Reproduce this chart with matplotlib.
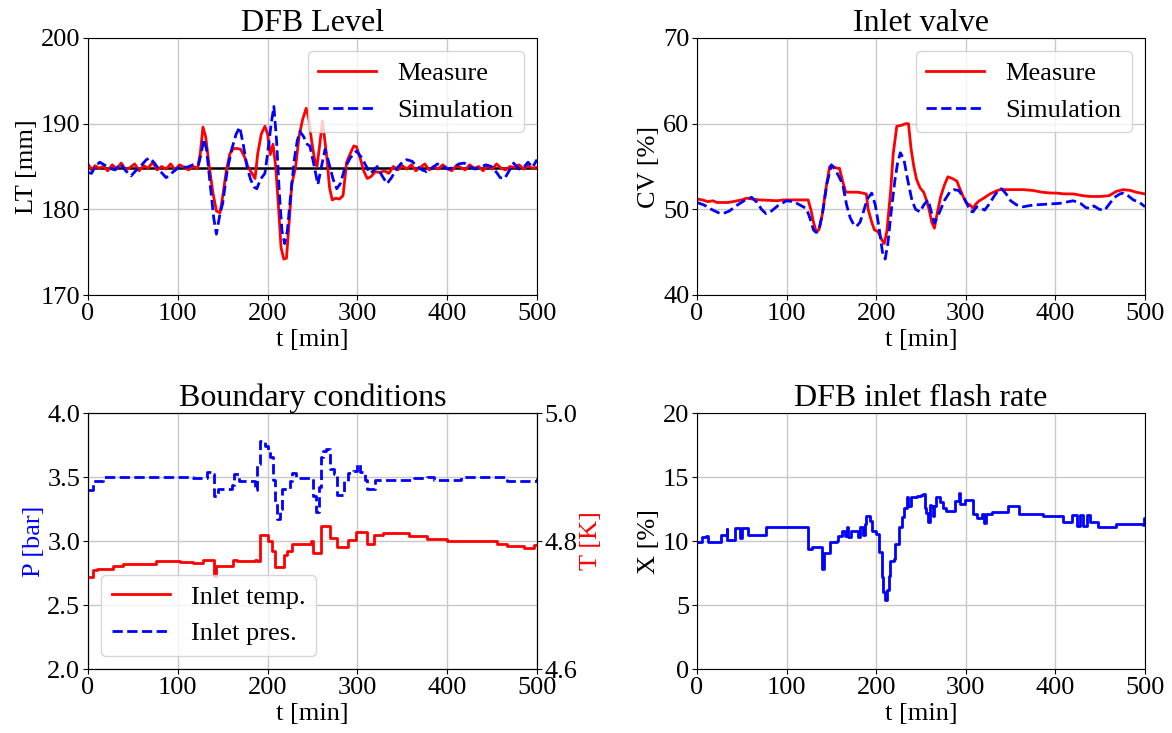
import numpy as np
import matplotlib
matplotlib.use('Agg')
import matplotlib.pyplot as plt

plt.rcParams['font.family'] = ['Liberation Serif', 'DejaVu Serif']
plt.rcParams['mathtext.fontset'] = 'stix'

# DFB level [mm]
lt_setpoint = 184.8
lt_measure = [(0, 185.3), (4, 184.6), (8, 185.1), (12, 184.8), (17, 185.0), (22, 184.5), (27, 185.2),
              (32, 184.7), (37, 185.4), (42, 184.6), (47, 184.9), (52, 185.3), (57, 184.5), (62, 185.1),
              (67, 184.8), (72, 185.5), (77, 184.6), (82, 185.0), (87, 184.7), (92, 185.3), (97, 184.6),
              (102, 185.2), (107, 184.9), (112, 184.6), (117, 185.0), (122, 184.8), (125, 186.5),
              (128, 189.6), (131, 188.5), (135, 185.0), (139, 182.0), (143, 179.8), (147, 179.6),
              (150, 181.5), (154, 184.5), (158, 186.5), (162, 187.1), (166, 187.1), (170, 187.0),
              (174, 186.2), (178, 185.0), (182, 184.3), (186, 183.6), (189, 186.5), (193, 188.8),
              (197, 189.7), (200, 188.8), (203, 186.4), (206, 187.6), (209, 185.0), (212, 180.5),
              (215, 175.5), (218, 174.2), (221, 174.3), (224, 178.5), (227, 183.0), (231, 184.8),
              (235, 188.5), (239, 190.5), (243, 191.8), (246, 190.5), (249, 188.0), (252, 186.0),
              (255, 185.0), (258, 187.5), (261, 190.3), (263, 188.7), (266, 186.0), (269, 182.5),
              (272, 181.1), (276, 181.3), (280, 181.2), (284, 181.6), (288, 185.5), (292, 186.5),
              (296, 187.4), (299, 187.3), (303, 186.0), (307, 184.5), (311, 183.6), (315, 183.8),
              (320, 184.4), (325, 184.3), (330, 184.5), (335, 184.2), (340, 185.0), (345, 184.6),
              (350, 185.1), (355, 184.7), (360, 185.2), (365, 184.5), (370, 184.9), (375, 185.3),
              (380, 184.6), (385, 185.0), (390, 184.7), (395, 185.2), (400, 184.8), (405, 184.5),
              (410, 185.1), (415, 184.9), (420, 184.6), (425, 185.2), (430, 184.8), (435, 185.0),
              (440, 184.5), (445, 185.1), (450, 184.7), (455, 185.3), (460, 184.8), (465, 184.6),
              (470, 185.0), (475, 184.9), (480, 185.2), (485, 184.7), (490, 185.1), (495, 184.8),
              (500, 184.9)]
lt_sim = [(0, 184.3), (4, 184.2), (8, 185.0), (13, 185.5), (18, 185.2), (24, 184.8), (30, 184.6),
          (36, 185.3), (42, 184.5), (48, 183.9), (54, 184.6), (60, 185.2), (65, 185.8), (69, 186.0),
          (74, 185.4), (80, 184.5), (87, 183.7), (94, 184.3), (102, 185.0), (110, 184.9), (117, 185.2),
          (123, 185.2), (126, 186.5), (129, 188.2), (132, 187.0), (136, 183.0), (140, 179.0),
          (143, 177.1), (147, 179.5), (150, 180.7), (155, 184.5), (160, 187.0), (165, 188.8),
          (169, 189.6), (173, 187.5), (177, 185.0), (181, 183.5), (185, 182.6), (188, 182.4),
          (192, 183.5), (197, 184.2), (200, 186.5), (204, 190.0), (207, 192.0), (210, 188.0),
          (213, 182.0), (216, 177.5), (219, 176.0), (222, 177.5), (226, 182.0), (230, 186.0),
          (233, 188.0), (236, 189.1), (240, 188.5), (244, 187.6), (247, 187.4), (251, 185.5),
          (256, 182.9), (260, 185.0), (264, 187.0), (268, 185.5), (273, 183.5), (277, 182.4),
          (281, 183.0), (286, 184.8), (292, 186.0), (299, 186.8), (305, 186.0), (310, 185.0),
          (314, 184.2), (318, 184.5), (322, 185.0), (327, 184.0), (333, 183.0), (338, 183.7),
          (344, 184.8), (350, 185.5), (355, 185.8), (361, 185.6), (366, 185.0), (372, 184.6),
          (377, 184.4), (383, 184.8), (389, 185.3), (395, 185.0), (401, 184.7), (407, 184.9),
          (413, 185.3), (419, 185.4), (425, 185.0), (431, 184.7), (437, 184.9), (443, 185.2),
          (449, 185.0), (455, 184.3), (459, 183.7), (464, 183.6), (469, 184.5), (474, 185.4),
          (480, 184.7), (486, 185.0), (490, 185.5), (495, 184.9), (500, 185.8)]

# inlet valve opening [%]
cv_measure = [(0, 51.2), (6, 51.1), (12, 50.9), (18, 51.0), (22, 50.8), (35, 50.8), (40, 50.9),
              (50, 51.1), (55, 51.3), (62, 51.2), (70, 51.1), (90, 51.0), (96, 51.1), (110, 51.1),
              (124, 51.1), (127, 50.0), (130, 48.5), (133, 47.4), (136, 47.6), (140, 49.5), (144, 52.5),
              (148, 55.0), (152, 55.0), (156, 54.8), (159, 54.8), (162, 53.5), (166, 52.0), (170, 52.0),
              (180, 52.0), (189, 51.8), (191, 50.0), (195, 48.5), (198, 47.6), (202, 47.4), (206, 46.5),
              (209, 46.0), (212, 47.5), (216, 52.0), (219, 56.5), (223, 59.7), (228, 59.8), (233, 60.0),
              (236, 60.0), (239, 57.0), (242, 55.0), (245, 53.5), (249, 52.5), (253, 52.0), (256, 51.1),
              (259, 50.0), (262, 48.5), (265, 47.8), (268, 49.5), (272, 51.5), (276, 52.8), (280, 53.8),
              (285, 53.6), (290, 53.3), (293, 52.5), (297, 51.5), (301, 50.7), (305, 50.5), (308, 50.1),
              (311, 50.6), (315, 51.0), (320, 51.3), (327, 51.8), (333, 52.1), (338, 52.3), (350, 52.3),
              (364, 52.3), (375, 52.2), (385, 52.0), (395, 51.9), (401, 51.9), (410, 51.8), (420, 51.8),
              (430, 51.6), (439, 51.5), (450, 51.5), (460, 51.6), (468, 52.1), (476, 52.3), (484, 52.2),
              (490, 52.0), (500, 51.8)]
cv_sim = [(0, 50.8), (8, 50.5), (16, 50.0), (24, 49.6), (29, 49.5), (36, 49.8), (45, 50.5), (54, 51.1),
          (61, 51.4), (67, 50.8), (72, 50.0), (77, 49.5), (83, 49.8), (90, 50.4), (100, 51.0), (108, 50.9),
          (115, 50.5), (122, 50.1), (126, 49.0), (130, 47.6), (133, 47.3), (136, 47.5), (140, 49.5),
          (145, 53.0), (150, 55.2), (155, 54.5), (160, 53.5), (163, 52.7), (167, 50.5), (171, 49.0),
          (175, 48.2), (178, 48.0), (182, 48.5), (186, 49.8), (190, 51.2), (195, 51.9), (199, 50.5),
          (203, 48.0), (207, 45.0), (210, 44.2), (213, 46.0), (217, 50.0), (221, 53.5), (224, 55.5),
          (227, 56.6), (231, 55.8), (235, 53.5), (240, 51.0), (244, 50.0), (249, 49.7), (253, 50.5),
          (258, 51.1), (262, 49.5), (265, 48.4), (270, 49.5), (276, 51.0), (282, 52.0), (287, 52.3),
          (292, 52.2), (297, 51.5), (302, 50.5), (305, 49.8), (308, 49.7), (312, 50.3), (316, 50.2),
          (321, 49.9), (326, 50.6), (332, 51.6), (337, 52.3), (340, 52.4), (345, 51.8), (350, 51.0),
          (357, 50.5), (364, 50.3), (375, 50.5), (390, 50.6), (405, 50.7), (415, 50.9), (420, 51.0),
          (428, 50.7), (434, 50.2), (439, 50.1), (443, 50.4), (449, 50.0), (455, 49.9), (460, 50.6),
          (466, 51.4), (472, 51.8), (476, 51.9), (481, 51.6), (487, 51.1), (494, 50.8), (500, 50.3)]

# boundary conditions: inlet pressure [bar], inlet temperature [K]
p_inlet = [(0, 3.40), (6, 3.47), (17, 3.50), (117, 3.49), (132, 3.54), (139, 3.52), (140, 3.35),
           (145, 3.41), (160, 3.44), (163, 3.52), (168, 3.47), (182, 3.47), (186, 3.40), (188, 3.60),
           (192, 3.78), (197, 3.74), (200, 3.70), (203, 3.66), (206, 3.48), (208, 3.30), (210, 3.17),
           (214, 3.25), (216, 3.41), (223, 3.41), (225, 3.47), (227, 3.53), (232, 3.49), (248, 3.49),
           (251, 3.35), (254, 3.23), (257, 3.42), (259, 3.66), (262, 3.70), (265, 3.72), (269, 3.56),
           (274, 3.52), (277, 3.36), (283, 3.36), (285, 3.47), (290, 3.53), (295, 3.55), (299, 3.60),
           (303, 3.54), (309, 3.48), (311, 3.41), (320, 3.48), (363, 3.49), (378, 3.50), (385, 3.48),
           (415, 3.50), (467, 3.47), (500, 3.49)]
t_inlet = [(0, 4.743), (6, 4.755), (10, 4.757), (28, 4.761), (39, 4.764), (76, 4.769), (102, 4.767),
           (117, 4.765), (128, 4.770), (140, 4.746), (143, 4.761), (162, 4.770), (166, 4.768),
           (177, 4.769), (186, 4.771), (188, 4.768), (191, 4.810), (201, 4.800), (205, 4.784),
           (208, 4.759), (214, 4.759), (218, 4.778), (222, 4.784), (227, 4.796), (248, 4.800),
           (251, 4.782), (259, 4.823), (266, 4.823), (270, 4.805), (277, 4.790), (287, 4.790),
           (289, 4.802), (298, 4.814), (307, 4.814), (311, 4.796), (318, 4.796), (319, 4.809),
           (328, 4.813), (356, 4.813), (357, 4.808), (378, 4.803), (400, 4.800), (437, 4.800),
           (456, 4.796), (467, 4.792), (486, 4.789), (497, 4.793), (500, 4.793)]

# DFB inlet flash rate [%]
flash_rate = [(0, 9.95), (6, 10.3), (10, 10.4), (12, 9.95), (27, 10.5), (33, 10.9), (34, 10.1), (40, 10.1),
              (42, 11.0), (48, 10.2), (50, 11.0), (57, 10.5), (74, 10.5), (77, 11.1), (122, 11.06),
              (124, 9.38), (128, 9.5), (139, 9.5), (140, 7.8), (142, 9.07), (147, 9.07), (148, 9.95),
              (156, 10.0), (157, 10.4), (162, 10.8), (165, 10.4), (167, 11.06), (169, 10.3), (172, 10.8),
              (180, 10.3), (182, 11.06), (185, 10.5), (187, 11.3), (189, 11.97), (193, 11.58), (195, 10.8),
              (200, 10.54), (203, 9.12), (206, 7.18), (208, 6.0), (210, 5.36), (212, 6.14), (214, 7.3),
              (215, 8.4), (220, 8.6), (221, 9.77), (224, 9.77), (226, 11.06), (229, 11.84), (231, 12.6),
              (234, 13.4), (236, 12.75), (239, 13.4), (245, 13.5), (250, 13.6), (252, 13.7), (254, 12.6),
              (256, 12.2), (258, 11.45), (260, 12.8), (261, 12.75), (263, 11.97), (265, 12.7), (267, 13.47),
              (271, 13.06), (275, 12.6), (278, 12.36), (286, 12.36), (288, 13.13), (292, 13.73),
              (293, 12.9), (299, 13.2), (308, 12.1), (312, 11.76), (318, 12.1), (320, 11.4), (322, 12.1),
              (329, 12.23), (347, 12.7), (359, 12.1), (386, 11.97), (407, 11.97), (408, 11.5), (418, 12.0),
              (424, 11.14), (427, 12.0), (431, 11.14), (435, 12.0), (439, 11.5), (448, 11.1), (468, 11.3),
              (498, 11.24), (499, 11.8), (500, 11.8)]

x_ticks = [0, 100, 200, 300, 400, 500]


def xy(pairs):
    arr = np.array(pairs, dtype=float)
    return arr[:, 0], arr[:, 1]


FS = 19
TFS = 23
fig = plt.figure(figsize=(11.72, 7.33), dpi=100)
W, H = 1172, 733


def add_ax(x0, y0, x1, y1):
    return fig.add_axes([x0 / W, 1 - y1 / H, (x1 - x0) / W, (y1 - y0) / H])


def style(ax):
    ax.set_xlim(0, 500)
    ax.set_xticks(x_ticks)
    ax.set_xlabel('t [min]', fontsize=FS, labelpad=3)
    ax.tick_params(labelsize=FS, pad=2)
    ax.grid(True, color='#c8c8c8', linewidth=1.0)
    ax.set_axisbelow(True)


# 1. DFB level
ax1 = add_ax(88, 38, 537, 295)
t, v = xy(lt_measure)
ax1.plot(t, v, color='red', linewidth=2, label='Measure')
t, v = xy(lt_sim)
ax1.plot(t, v, color='blue', linewidth=2, linestyle='--', label='Simulation')
ax1.axhline(lt_setpoint, color='black', linewidth=1.8, zorder=1.5)
ax1.set_ylim(170, 200)
ax1.set_yticks([170, 180, 190, 200])
ax1.set_ylabel('LT [mm]', fontsize=FS, labelpad=2)
ax1.set_title('DFB Level', fontsize=TFS, pad=4)
style(ax1)
ax1.legend(loc='upper right', fontsize=FS, handlelength=2.2)

# 2. Inlet valve
ax2 = add_ax(697, 38, 1145, 295)
t, v = xy(cv_measure)
ax2.plot(t, v, color='red', linewidth=2, label='Measure')
t, v = xy(cv_sim)
ax2.plot(t, v, color='blue', linewidth=2, linestyle='--', label='Simulation')
ax2.set_ylim(40, 70)
ax2.set_yticks([40, 50, 60, 70])
ax2.set_ylabel('CV [%]', fontsize=FS, labelpad=2)
ax2.set_title('Inlet valve', fontsize=TFS, pad=4)
style(ax2)
ax2.legend(loc='upper right', fontsize=FS, handlelength=2.2)

# 3. Boundary conditions
ax3 = add_ax(88, 413, 537, 669)
ax3b = ax3.twinx()
t, v = xy(t_inlet)
l1, = ax3b.plot(t, v, color='red', linewidth=2, drawstyle='steps-post', label='Inlet temp.')
t, v = xy(p_inlet)
l2, = ax3.plot(t, v, color='blue', linewidth=2, linestyle='--', drawstyle='steps-post', label='Inlet pres.')
ax3.set_ylim(2.0, 4.0)
ax3.set_yticks([2.0, 2.5, 3.0, 3.5, 4.0])
ax3.set_ylabel('P [bar]', fontsize=FS, color='blue', labelpad=2)
ax3b.set_ylim(4.6, 5.0)
ax3b.set_yticks([4.6, 4.8, 5.0])
ax3b.set_ylabel('T [K]', fontsize=FS, color='red', labelpad=2)
ax3b.tick_params(labelsize=FS, pad=2)
ax3.set_title('Boundary conditions', fontsize=TFS, pad=4)
style(ax3)
ax3b.legend([l1, l2], ['Inlet temp.', 'Inlet pres.'], loc='lower left', fontsize=FS, handlelength=2.2)

# 4. Flash rate
ax4 = add_ax(697, 413, 1145, 669)
t, v = xy(flash_rate)
ax4.plot(t, v, color='blue', linewidth=2, drawstyle='steps-post')
ax4.set_ylim(0, 20)
ax4.set_yticks([0, 5, 10, 15, 20])
ax4.set_ylabel('X [%]', fontsize=FS, labelpad=2)
ax4.set_title('DFB inlet flash rate', fontsize=TFS, pad=4)
style(ax4)

fig.savefig('out.png', dpi=100)
